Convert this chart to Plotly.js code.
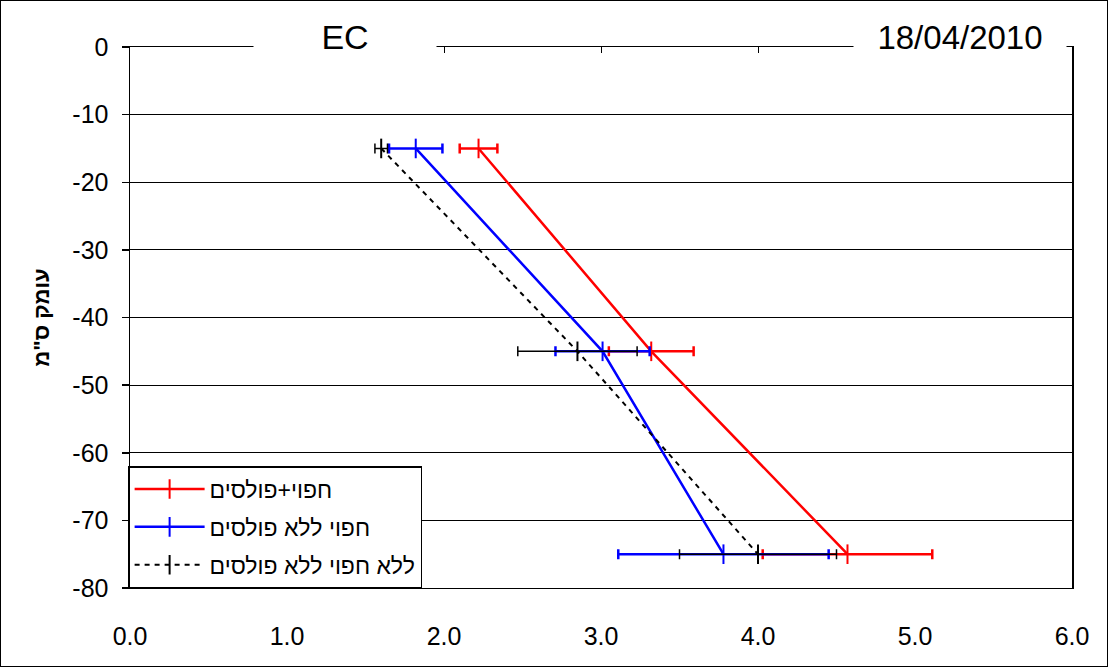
<!DOCTYPE html>
<html>
<head>
<meta charset="utf-8">
<script src="https://cdn.plot.ly/plotly-3.0.1.min.js"></script>
<style>
  html, body { margin: 0; padding: 0; background: #fff; }
  #chart { width: 1108px; height: 667px; box-sizing: border-box; border: 1px solid #000; }
</style>
</head>
<body>
<div id="chart"></div>
<script>
// ---- data ----
const depths = [-15, -45, -75];

const seriesNames = ['חפוי+פולסים', 'חפוי ללא פולסים', 'ללא חפוי ללא פולסים'];

const ecCoverPulses = [2.22, 3.32, 4.57];
const errCoverPulses = [0.12, 0.27, 0.54];

const ecCoverNoPulses = [1.82, 3.01, 3.78];
const errCoverNoPulses = [0.17, 0.30, 0.67];

const ecNoCoverNoPulses = [1.60, 2.85, 4.00];
const errNoCoverNoPulses = [0.04, 0.38, 0.50];

const xTickVals = [0, 1, 2, 3, 4, 5, 6];
const xTickText = ['0.0', '1.0', '2.0', '3.0', '4.0', '5.0', '6.0'];
const yTickVals = [0, -10, -20, -30, -40, -50, -60, -70, -80];
const yTickText = ['0', '-10', '-20', '-30', '-40', '-50', '-60', '-70', '-80'];

const chartTitle = 'EC';
const dateText = '18/04/2010';
const yTitle = 'עומק ס"מ';

// ---- traces ----
const FONT = 'Liberation Sans, Arial, DejaVu Sans, sans-serif';

function series(name, xs, errs, color, dash, lw, ew, group) {
  return {
    type: 'scatter', mode: 'lines+markers', name: name,
    x: xs, y: depths, legendgroup: group,
    line: { color: color, width: lw, dash: dash },
    marker: { symbol: 'line-ns', size: 14, line: { color: color, width: 2 }, color: color },
    error_x: { type: 'data', array: errs, visible: true, color: color, thickness: ew, width: 5 },
    hoverinfo: 'x+y'
  };
}

const traces = [
  series(seriesNames[0], ecCoverPulses, errCoverPulses, '#ff0000', 'solid', 2.5, 2.5, 'a'),
  series(seriesNames[1], ecCoverNoPulses, errCoverNoPulses, '#0000ff', 'solid', 2.5, 2.5, 'b'),
  series(seriesNames[2], ecNoCoverNoPulses, errNoCoverNoPulses, '#000000', '5px,5px', 2, 1.5, 'c'),
  { type: 'scatter', x: [null], y: [null], xaxis: 'x2', showlegend: false, hoverinfo: 'skip' }
];

const layout = {
  width: 1106, height: 665,
  margin: { l: 129, r: 35, t: 46, b: 78 },
  paper_bgcolor: '#ffffff', plot_bgcolor: '#ffffff',
  font: { family: FONT, color: '#000', size: 25 },
  showlegend: true,
  xaxis: {
    range: [0, 6], tickvals: xTickVals, ticktext: xTickText,
    showgrid: false, zeroline: false,
    showline: true, mirror: true, linecolor: '#000', linewidth: 1,
    ticks: '', ticklabelstandoff: 26,
    tickfont: { size: 25 }
  },
  xaxis2: {
    overlaying: 'x', side: 'top', matches: 'x', range: [0, 6], tickvals: xTickVals,
    showticklabels: false, ticks: 'inside', ticklen: 6, tickcolor: '#000', tickwidth: 1,
    showgrid: false, zeroline: false, showline: false
  },
  yaxis: {
    range: [-80, 0], tickvals: yTickVals, ticktext: yTickText,
    showgrid: true, gridcolor: '#000', gridwidth: 1,
    zeroline: false, showline: true, linecolor: '#000', linewidth: 1.5, mirror: true,
    ticks: 'outside', ticklen: 7, tickcolor: '#000', tickwidth: 1.5,
    ticklabelstandoff: 8,
    tickfont: { size: 25 },
    title: { text: yTitle, font: { size: 22, family: FONT, weight: 'bold' }, standoff: 16 }
  },
  legend: {
    x: -0.002, y: 0, xanchor: 'left', yanchor: 'bottom',
    bgcolor: '#ffffff', bordercolor: '#000', borderwidth: 1.5,
    font: { size: 23, family: FONT },
    traceorder: 'grouped', tracegroupgap: 5, itemwidth: 70
  },
  annotations: [
    { xref: 'paper', yref: 'paper', x: 0.228, y: 1.018, xanchor: 'center', yanchor: 'middle',
      text: chartTitle, showarrow: false, bgcolor: '#ffffff', width: 180, height: 36,
      font: { size: 34, family: FONT } },
    { xref: 'paper', yref: 'paper', x: 0.881, y: 1.018, xanchor: 'center', yanchor: 'middle',
      text: dateText, showarrow: false, bgcolor: '#ffffff', width: 210, height: 36,
      font: { size: 33, family: FONT } }
  ]
};

Plotly.newPlot('chart', traces, layout, { displayModeBar: false, staticPlot: true });
</script>
</body>
</html>
